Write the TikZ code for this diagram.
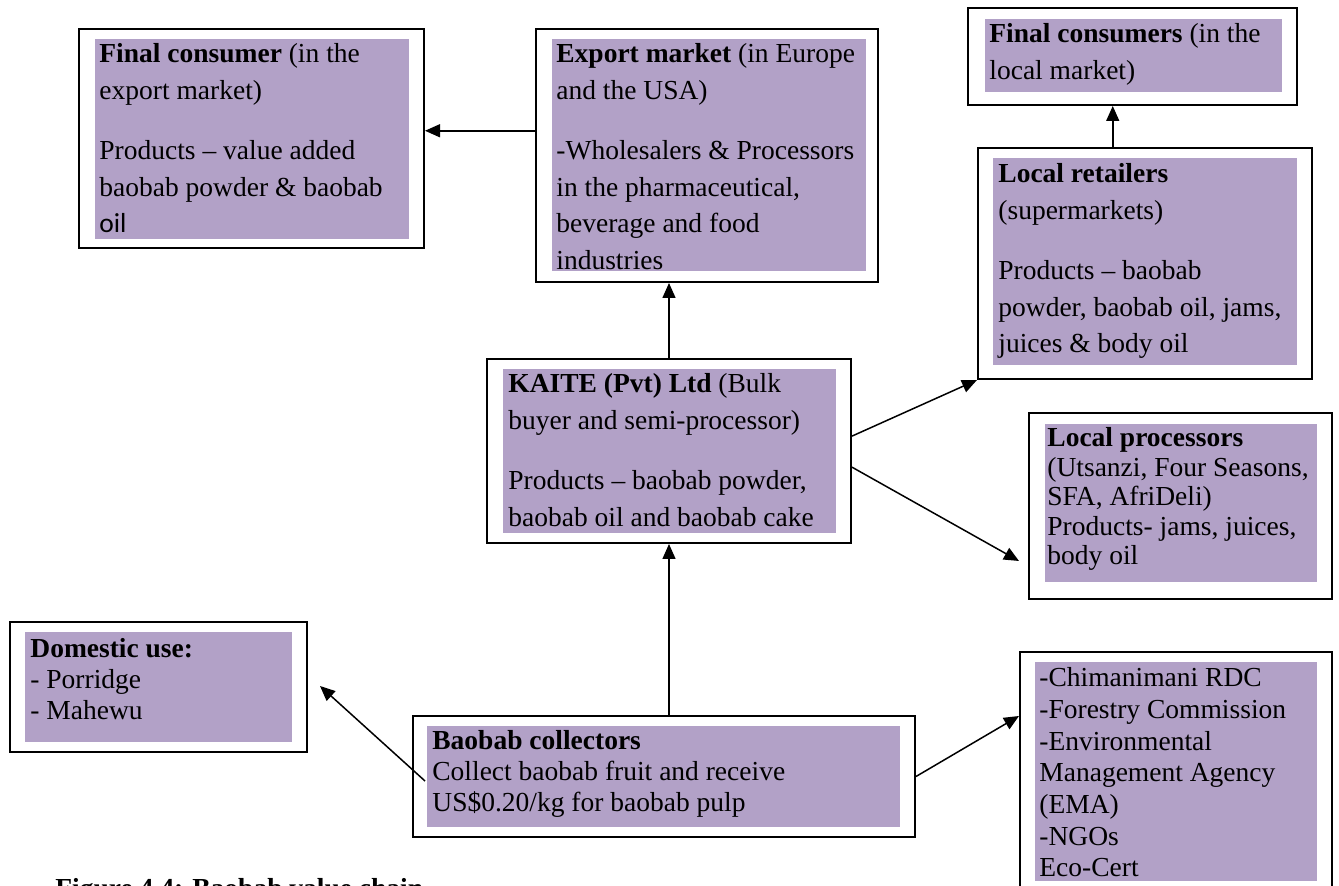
\documentclass[tikz,border=0pt]{standalone}
\usepackage{fontspec}
\setmainfont{Liberation Serif}
\newfontfamily\calibrifont{Carlito}
\usetikzlibrary{arrows.meta,calc,fit}
\definecolor{lilac}{HTML}{B2A1C7}
% text block: first argument is the line pitch, second the lines
\newcommand\boxlines[2]{\parbox[t]{330pt}{\fontsize{13.75pt}{#1}\selectfont\raggedright #2}}
\tikzset{
  frame/.style={draw=black, line width=1pt, fill=white, inner sep=0pt},
  shade/.style={fill=lilac, draw=none, inner sep=0pt},
  boxtxt/.style={anchor=base west, inner sep=0pt},
  arr/.style={-{Triangle[length=7.5pt,width=6.5pt]}, line width=0.75pt},
}
\begin{document}
\begin{tikzpicture}[x=0.5pt,y=-0.5pt]
\useasboundingbox (0,0) rectangle (1339,886);
\clip (0,0) rectangle (1339,886);

% Final consumer in the export market
\node[frame, fit={(79,29) (424,248)}] (fcexp) {};
\node[shade, fit={(95,39) (409,239)}] (fcexp-f) {};
\node[boxtxt] (fcexp-t) at (99,63) {\boxlines{18.25pt}{\textbf{Final consumer} (in the\\ export market)\\[12pt] Products – value added\\ baobab powder \& baobab\\ {\calibrifont oil}}};

% Export market
\node[frame, fit={(536,29) (878,282)}] (export) {};
\node[shade, fit={(552,39) (866,271)}] (export-f) {};
\node[boxtxt] (export-t) at (556,63) {\boxlines{18.25pt}{\textbf{Export market} (in Europe\\ and the USA)\\[12pt] -Wholesalers \& Processors\\ in the pharmaceutical,\\ beverage and food\\ industries}};

% Final consumers in the local market
\node[frame, fit={(968,8) (1297,105)}] (fclocal) {};
\node[shade, fit={(985,19) (1282,92)}] (fclocal-f) {};
\node[boxtxt] (fclocal-t) at (989,43) {\boxlines{18.5pt}{\textbf{Final consumers} (in the\\ local market)}};

% Local retailers
\node[frame, fit={(978,148) (1312,379)}] (ret) {};
\node[shade, fit={(993,158) (1297,365)}] (ret-f) {};
\node[boxtxt] (ret-t) at (998,183) {\boxlines{18.25pt}{\textbf{Local retailers}\\ (supermarkets)\\[12pt] Products – baobab\\ powder, baobab oil, jams,\\ juices \& body oil}};

% KAITE
\node[frame, fit={(487,359) (851,543)}] (kaite) {};
\node[shade, fit={(503,369) (836,533)}] (kaite-f) {};
\node[boxtxt] (kaite-t) at (508,393) {\boxlines{18.25pt}{\textbf{KAITE (Pvt) Ltd} (Bulk\\ buyer and semi-processor)\\[12pt] Products – baobab powder,\\ baobab oil and baobab cake}};

% Local processors
\node[frame, fit={(1029,413) (1332,599)}] (proc) {};
\node[shade, fit={(1045,424) (1317,582)}] (proc-f) {};
\node[boxtxt] (proc-t) at (1047,447) {\boxlines{14.75pt}{\textbf{Local processors}\\ (Utsanzi, Four Seasons,\\ SFA, AfriDeli)\\ Products- jams, juices,\\ body oil}};

% Domestic use
\node[frame, fit={(10,622) (307,752)}] (dom) {};
\node[shade, fit={(25,632) (292,742)}] (dom-f) {};
\node[boxtxt] (dom-t) at (30,658) {\boxlines{15.5pt}{\textbf{Domestic use:}\\ - Porridge\\ - Mahewu}};

% Baobab collectors
\node[frame, fit={(413,716) (915,837)}] (coll) {};
\node[shade, fit={(427,726) (900,827)}] (coll-f) {};
\node[boxtxt] (coll-t) at (432,750) {\boxlines{15.5pt}{\textbf{Baobab collectors}\\ Collect baobab fruit and receive\\ US\$0.20/kg for baobab pulp}};

% Agencies
\node[frame, fit={(1020,652) (1332,900)}] (agency) {};
\node[shade, fit={(1035,662) (1317,881)}] (agency-f) {};
\node[boxtxt] (agency-t) at (1039,687) {\boxlines{15.83pt}{-Chimanimani RDC\\ -Forestry Commission\\ -Environmental\\ Management Agency\\ (EMA)\\ -NGOs\\ Eco-Cert}};

% Caption
\node[boxtxt, font=\bfseries\fontsize{13.75pt}{16pt}\selectfont] (caption) at (55,898) {Figure 4.4: Baobab value chain};

% Connectors
\coordinate (e1) at ($(export.north west)!0.403!(export.south west)$);
\coordinate (r1) at ($(ret.north west)!0.404!(ret.north east)$);
\coordinate (k1) at ($(kaite.north east)!0.42!(kaite.south east)$);
\coordinate (k2) at ($(kaite.north east)!0.587!(kaite.south east)$);
\coordinate (proc-in) at (1019,561);
\coordinate (coll-out) at (425,781);
\coordinate (dom-in) at (320,686);

\draw[arr] (e1) -- (e1 -| fcexp.east);
\draw[arr] (kaite.north) -- (kaite.north |- export.south);
\draw[arr] (r1) -- (r1 |- fclocal.south);
\draw[arr] (k1) -- (ret.south west);
\draw[arr] (k2) -- (proc-in);
\draw[arr] (kaite.south |- coll.north) -- (kaite.south);
\draw[arr] (coll-out) -- (dom-in);
\draw[arr] (coll.east) -- ($(agency.north west)+(0,65)$);
\end{tikzpicture}
\end{document}
